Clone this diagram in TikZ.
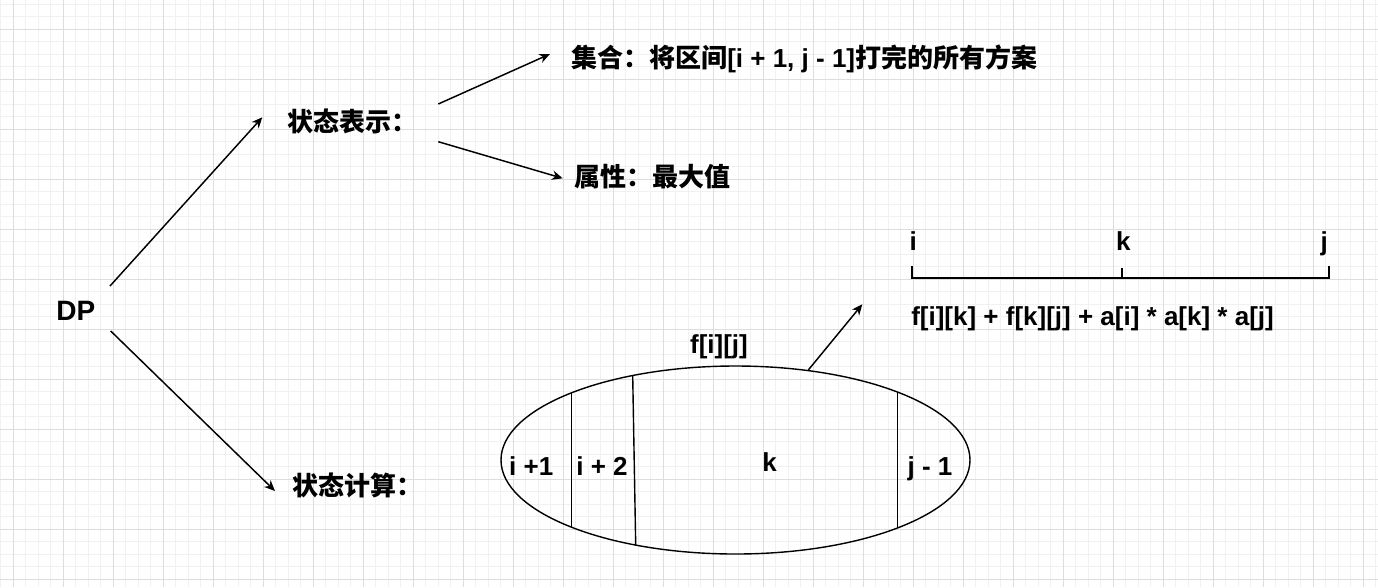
\documentclass[tikz,border=0pt]{standalone}
\usepackage{fontspec}
\setmainfont{Liberation Sans}
\newfontfamily\cjk{Noto Sans CJK SC}
\usetikzlibrary{arrows.meta,shapes.geometric}
\definecolor{gmajor}{HTML}{DDDDDD}
\definecolor{gminor}{HTML}{F1F1F1}
\begin{document}
\begin{tikzpicture}[x=0.75pt,y=-0.75pt,
  txt/.style={inner sep=0pt, font=\fontsize{19.5}{23}\selectfont\bfseries},
  arr/.style={line width=1.1pt, -{Stealth[length=8pt,width=7pt,inset=2.5pt]}},
  thin line/.style={line width=1.05pt},
  seg/.style={line width=1.5pt, line join=miter}]
\useasboundingbox (0,0) rectangle (1378,587);
\fill[white] (0,0) rectangle (1378,587);
% grid
\foreach \i in {0,...,110} \draw[gminor, line width=0.75pt] ({0.8+12.5*\i},0) -- ({0.8+12.5*\i},587);
\foreach \i in {0,...,47} \draw[gminor, line width=0.75pt] (0,{4.3+12.5*\i}) -- (1378,{4.3+12.5*\i});
\foreach \i in {0,...,27} \draw[gmajor, line width=0.75pt] ({13.3+50*\i},0) -- ({13.3+50*\i},587);
\foreach \i in {0,...,11} \draw[gmajor, line width=0.75pt] (0,{29.3+50*\i}) -- (1378,{29.3+50*\i});

% text nodes
\node[txt, anchor=base, font=\fontsize{21}{25}\selectfont\bfseries] (dp) at (75.8,320.5) {DP};
\node[txt, anchor=base west] (rep) at (287,131.5) {\cjk 状态表示：};
\node[txt, anchor=base west] (calc) at (292,495) {\cjk 状态计算：};
\node[txt, anchor=base west] (set) at (571,67.5) {{\cjk 集合：将区间}[i + 1, j - 1]{\cjk 打完的所有方案}};
\node[txt, anchor=base west] (attr) at (574,186.5) {\cjk 属性：最大值};
\node[txt, anchor=base] (fij) at (719,353.3) {f[i][j]};
\node[txt, anchor=base] (li) at (913.3,250.7) {i};
\node[txt, anchor=base] (lk) at (1123.3,250.7) {k};
\node[txt, anchor=base] (lj) at (1324.3,250.7) {j};
\node[txt, anchor=base west] (form) at (911,325) {f[i][k] + f[k][j] + a[i] * a[k] * a[j]};

% ellipse
\node[draw, thin line, ellipse, inner sep=0pt, minimum width=351.75pt, minimum height=141pt] (E) at (735.5,460) {};
\draw[thin line] (571.7,392.7) -- (571.7,527.3);
\draw[thin line] (632.7,375.5) -- (635.7,545.1);
\draw[thin line] (897.3,392) -- (897.3,528);
\node[txt, anchor=base] (c1) at (531.2,475) {i +1};
\node[txt, anchor=base] (c2) at (602,475) {i + 2};
\node[txt, anchor=base] (ck) at (769.7,471) {k};
\node[txt, anchor=base] (c4) at (930,475) {j - 1};

% connector coordinates
\coordinate (dpA) at (110,286);
\coordinate (dpB) at (110.7,331);
\coordinate (repT) at (262.3,117.3);
\coordinate (calcT) at (275,491);
\coordinate (repA) at (438.3,104);
\coordinate (repB) at (438.3,141.7);
\coordinate (setT) at (550,54);
\coordinate (attrT) at (562.7,178.3);
\coordinate (eT) at (808.3,370);
\coordinate (fT) at (862.3,304.3);

\draw[arr] (dpA) -- (repT);
\draw[arr] (dpB) -- (calcT);
\draw[arr] (repA) -- (setT);
\draw[arr] (repB) -- (attrT);
\draw[arr] (eT) -- (fT);

% segment
\coordinate (segL) at (912.3,278.3);
\coordinate (segM) at (1122.3,278.3);
\coordinate (segR) at (1329,278.3);
\draw[seg] (912.3,266) -- (segL) -- (segR) -- (1329,266);
\draw[seg] (segM) -- (1122.3,267.7);
\end{tikzpicture}
\end{document}
